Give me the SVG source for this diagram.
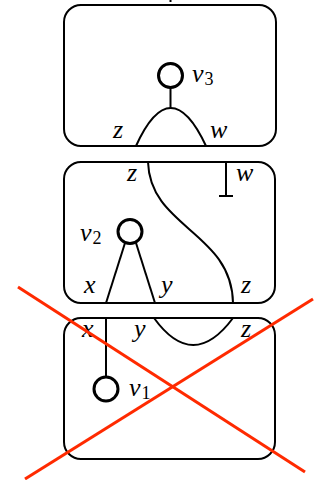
<svg xmlns="http://www.w3.org/2000/svg" width="320" height="480" viewBox="0 0 320 480">
<style>
.box{fill:none;stroke:#000;stroke-width:2}
.str{fill:none;stroke:#000;stroke-width:2}
.v{fill:#fff;stroke:#000;stroke-width:3}
.lbl{font-family:"Liberation Serif","DejaVu Serif",serif;font-style:italic;font-size:26px;fill:#000}
.sub{font-family:"Liberation Serif","DejaVu Serif",serif;font-style:normal;font-size:18px;fill:#000}
.cross{stroke:#ff2a00;stroke-width:3;fill:none}
</style>
<rect width="320" height="480" fill="#fff"/>
<g id="box3">
<rect class="box" x="64" y="5" width="212" height="141" rx="17"/>
<line class="str" x1="170.5" y1="0" x2="170.5" y2="2"/>
<path class="str" d="M136,146 Q170.5,70 206,146"/>
<line class="str" x1="170.5" y1="88" x2="170.5" y2="108"/>
<g id="v3"><circle class="v" cx="170.5" cy="75.5" r="12"/></g>
<text class="lbl" x="192" y="82">v<tspan class="sub" dx="1" dy="3">3</tspan></text>
<text class="lbl" x="113" y="138">z</text>
<text class="lbl" x="210" y="138">w</text>
</g>
<g id="box2">
<rect class="box" x="64" y="162" width="211" height="141" rx="17"/>
<path class="str" d="M148,162 C150,228 232,232 233,303"/>
<path class="str" d="M226,162 V196 M219,196 H233"/>
<line class="str" x1="125" y1="243" x2="106" y2="303"/>
<line class="str" x1="136" y1="243" x2="155" y2="303"/>
<g id="v2"><circle class="v" cx="130" cy="231.5" r="12"/></g>
<text class="lbl" x="80" y="241">v<tspan class="sub" dx="1" dy="3">2</tspan></text>
<text class="lbl" x="127" y="181">z</text>
<text class="lbl" x="236" y="181">w</text>
<text class="lbl" x="84" y="293">x</text>
<text class="lbl" x="161" y="293">y</text>
<text class="lbl" x="241" y="293">z</text>
</g>
<g id="box1">
<rect class="box" x="64" y="318" width="211" height="141" rx="17"/>
<line class="str" x1="106" y1="318" x2="106" y2="377"/>
<path class="str" d="M154,318 Q193,372 233,318"/>
<g id="v1"><circle class="v" cx="106" cy="389" r="12"/></g>
<text class="lbl" x="129" y="396">v<tspan class="sub" dx="1" dy="3">1</tspan></text>
<text class="lbl" x="82" y="337">x</text>
<text class="lbl" x="134" y="337">y</text>
<text class="lbl" x="241" y="337">z</text>
</g>
<g id="connectors">
<line class="cross" x1="18" y1="287" x2="305" y2="472"/>
<line class="cross" x1="313" y1="299" x2="25" y2="479"/>
</g>
</svg>
